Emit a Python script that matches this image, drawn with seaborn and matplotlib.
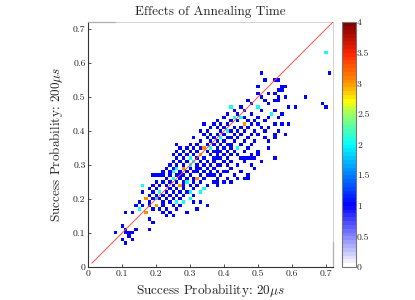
import matplotlib
matplotlib.use("Agg")
import matplotlib.pyplot as plt
import seaborn as sns
from matplotlib.colors import LinearSegmentedColormap

# success probabilities per instance, one entry per sample (repeats = count > 1)
# written row by row, same order in both lists
x20 = [
    0.70, 0.70,
    0.51, 0.71,
    0.52, 0.55, 0.56,
    0.50, 0.57, 0.58,
    0.56, 0.57,
    0.50, 0.53, 0.55,
    0.51, 0.56, 0.58, 0.64,
    0.47, 0.52, 0.55, 0.56,
    0.48, 0.53, 0.69,
    0.42, 0.42, 0.45, 0.50, 0.50, 0.59, 0.61, 0.70,
    0.43, 0.46, 0.51, 0.55,
    0.41, 0.44, 0.48, 0.54, 0.54, 0.57,
    0.40, 0.43, 0.43, 0.45, 0.45, 0.46, 0.50, 0.53, 0.56,
    0.38, 0.42, 0.44, 0.47, 0.49, 0.52,
    0.34, 0.37, 0.39, 0.41, 0.46, 0.46, 0.46, 0.48, 0.50, 0.55, 0.57, 0.59,
    0.36, 0.38, 0.40, 0.43, 0.45, 0.47, 0.51, 0.53,
    0.33, 0.35, 0.39, 0.41, 0.41, 0.42, 0.44, 0.46, 0.49, 0.52, 0.56,
    0.34, 0.36, 0.38, 0.40, 0.43, 0.45, 0.48, 0.50, 0.55, 0.58,
    0.31, 0.35, 0.37, 0.39, 0.39, 0.41, 0.42, 0.44, 0.47, 0.52, 0.55,
    0.33, 0.36, 0.38, 0.40, 0.43, 0.46, 0.49, 0.53,
    0.26, 0.30, 0.32, 0.35, 0.37, 0.39, 0.41, 0.42, 0.45, 0.48,
    0.27, 0.29, 0.31, 0.33, 0.34, 0.34, 0.34, 0.36, 0.36, 0.38, 0.40, 0.42, 0.44, 0.44, 0.47, 0.53,
    0.26, 0.28, 0.30, 0.32, 0.35, 0.37, 0.38, 0.39, 0.41, 0.43, 0.46, 0.50,
    0.25, 0.27, 0.29, 0.31, 0.33, 0.33, 0.33, 0.36, 0.38, 0.40, 0.42, 0.44, 0.48, 0.50,
    0.26, 0.28, 0.30, 0.30, 0.32, 0.34, 0.37, 0.38, 0.39, 0.41, 0.45, 0.46, 0.47, 0.48, 0.49, 0.55,
    0.25, 0.27, 0.29, 0.31, 0.31, 0.33, 0.35, 0.37, 0.40, 0.42, 0.46, 0.51,
    0.24, 0.26, 0.28, 0.30, 0.30, 0.32, 0.34, 0.36, 0.38, 0.39, 0.41, 0.44, 0.48,
    0.23, 0.25, 0.26, 0.26, 0.28, 0.28, 0.28, 0.30, 0.32, 0.33, 0.35, 0.37, 0.42, 0.49,
    0.22, 0.24, 0.25, 0.25, 0.27, 0.29, 0.31, 0.32, 0.34, 0.36, 0.38, 0.40, 0.41, 0.45,
    0.19, 0.20, 0.21, 0.22, 0.24, 0.26, 0.27, 0.28, 0.30, 0.33, 0.35, 0.36, 0.37, 0.39, 0.43, 0.47,
    0.23, 0.25, 0.25, 0.27, 0.29, 0.31, 0.32, 0.32, 0.32, 0.34, 0.38, 0.41, 0.44, 0.46, 0.47,
    0.20, 0.22, 0.24, 0.26, 0.28, 0.29, 0.29, 0.31, 0.33, 0.37, 0.38, 0.40, 0.42,
    0.16, 0.16, 0.19, 0.21, 0.23, 0.25, 0.27, 0.27, 0.27, 0.28, 0.30, 0.32, 0.35, 0.38,
    0.18, 0.20, 0.24, 0.26, 0.28, 0.31, 0.34, 0.34,
    0.16, 0.19, 0.21, 0.21, 0.23, 0.25, 0.27, 0.29, 0.30, 0.30, 0.33, 0.33,
    0.18, 0.20, 0.22, 0.24, 0.26, 0.28, 0.31,
    0.17, 0.17, 0.17, 0.19, 0.20, 0.20, 0.21, 0.23, 0.25, 0.27, 0.30, 0.30,
    0.15, 0.18, 0.22, 0.24, 0.26, 0.26, 0.28, 0.28, 0.31, 0.33,
    0.14, 0.16, 0.18, 0.20, 0.20, 0.20, 0.22, 0.25, 0.27, 0.35,
    0.15, 0.15, 0.19, 0.21, 0.23, 0.26, 0.32,
    0.11, 0.13, 0.17, 0.17, 0.17, 0.22, 0.24, 0.29,
    0.23, 0.25,
    0.18,
    0.19,
    0.10,
    0.11, 0.14, 0.18,
    0.08, 0.11, 0.12, 0.13,
    0.12,
    0.10, 0.13,
    0.11,
]
y200 = [
    0.63, 0.63,
    0.57, 0.57,
    0.55, 0.55, 0.55,
    0.53, 0.53, 0.53,
    0.52, 0.52,
    0.51, 0.51, 0.51,
    0.50, 0.50, 0.50, 0.50,
    0.49, 0.49, 0.49, 0.49,
    0.48, 0.48, 0.48,
    0.47, 0.47, 0.47, 0.47, 0.47, 0.47, 0.47, 0.47,
    0.46, 0.46, 0.46, 0.46,
    0.45, 0.45, 0.45, 0.45, 0.45, 0.45,
    0.44, 0.44, 0.44, 0.44, 0.44, 0.44, 0.44, 0.44, 0.44,
    0.43, 0.43, 0.43, 0.43, 0.43, 0.43,
    0.42, 0.42, 0.42, 0.42, 0.42, 0.42, 0.42, 0.42, 0.42, 0.42, 0.42, 0.42,
    0.41, 0.41, 0.41, 0.41, 0.41, 0.41, 0.41, 0.41,
    0.40, 0.40, 0.40, 0.40, 0.40, 0.40, 0.40, 0.40, 0.40, 0.40, 0.40,
    0.39, 0.39, 0.39, 0.39, 0.39, 0.39, 0.39, 0.39, 0.39, 0.39,
    0.38, 0.38, 0.38, 0.38, 0.38, 0.38, 0.38, 0.38, 0.38, 0.38, 0.38,
    0.37, 0.37, 0.37, 0.37, 0.37, 0.37, 0.37, 0.37,
    0.36, 0.36, 0.36, 0.36, 0.36, 0.36, 0.36, 0.36, 0.36, 0.36,
    0.35, 0.35, 0.35, 0.35, 0.35, 0.35, 0.35, 0.35, 0.35, 0.35, 0.35, 0.35, 0.35, 0.35, 0.35, 0.35,
    0.34, 0.34, 0.34, 0.34, 0.34, 0.34, 0.34, 0.34, 0.34, 0.34, 0.34, 0.34,
    0.33, 0.33, 0.33, 0.33, 0.33, 0.33, 0.33, 0.33, 0.33, 0.33, 0.33, 0.33, 0.33, 0.33,
    0.32, 0.32, 0.32, 0.32, 0.32, 0.32, 0.32, 0.32, 0.32, 0.32, 0.32, 0.32, 0.32, 0.32, 0.32, 0.32,
    0.31, 0.31, 0.31, 0.31, 0.31, 0.31, 0.31, 0.31, 0.31, 0.31, 0.31, 0.31,
    0.30, 0.30, 0.30, 0.30, 0.30, 0.30, 0.30, 0.30, 0.30, 0.30, 0.30, 0.30, 0.30,
    0.29, 0.29, 0.29, 0.29, 0.29, 0.29, 0.29, 0.29, 0.29, 0.29, 0.29, 0.29, 0.29, 0.29,
    0.28, 0.28, 0.28, 0.28, 0.28, 0.28, 0.28, 0.28, 0.28, 0.28, 0.28, 0.28, 0.28, 0.28,
    0.27, 0.27, 0.27, 0.27, 0.27, 0.27, 0.27, 0.27, 0.27, 0.27, 0.27, 0.27, 0.27, 0.27, 0.27, 0.27,
    0.26, 0.26, 0.26, 0.26, 0.26, 0.26, 0.26, 0.26, 0.26, 0.26, 0.26, 0.26, 0.26, 0.26, 0.26,
    0.25, 0.25, 0.25, 0.25, 0.25, 0.25, 0.25, 0.25, 0.25, 0.25, 0.25, 0.25, 0.25,
    0.24, 0.24, 0.24, 0.24, 0.24, 0.24, 0.24, 0.24, 0.24, 0.24, 0.24, 0.24, 0.24, 0.24,
    0.23, 0.23, 0.23, 0.23, 0.23, 0.23, 0.23, 0.23,
    0.22, 0.22, 0.22, 0.22, 0.22, 0.22, 0.22, 0.22, 0.22, 0.22, 0.22, 0.22,
    0.21, 0.21, 0.21, 0.21, 0.21, 0.21, 0.21,
    0.20, 0.20, 0.20, 0.20, 0.20, 0.20, 0.20, 0.20, 0.20, 0.20, 0.20, 0.20,
    0.19, 0.19, 0.19, 0.19, 0.19, 0.19, 0.19, 0.19, 0.19, 0.19,
    0.18, 0.18, 0.18, 0.18, 0.18, 0.18, 0.18, 0.18, 0.18, 0.18,
    0.17, 0.17, 0.17, 0.17, 0.17, 0.17, 0.17,
    0.16, 0.16, 0.16, 0.16, 0.16, 0.16, 0.16, 0.16,
    0.15, 0.15,
    0.14,
    0.13,
    0.12,
    0.11, 0.11, 0.11,
    0.10, 0.10, 0.10, 0.10,
    0.09,
    0.08, 0.08,
    0.07,
]

diag = [0.01, 0.72]
ticks = [0, 0.1, 0.2, 0.3, 0.4, 0.5, 0.6, 0.7]
tick_labels = ['0', '0.1', '0.2', '0.3', '0.4', '0.5', '0.6', '0.7']
cbar_ticks = [0, 0.5, 1, 1.5, 2, 2.5, 3, 3.5, 4]
cbar_labels = ['0', '0.5', '1', '1.5', '2', '2.5', '3', '3.5', '4']

sns.set_style("white")
plt.rcParams['font.family'] = ['cmr10', 'DejaVu Serif']
plt.rcParams['mathtext.fontset'] = 'cm'
plt.rcParams['axes.formatter.use_mathtext'] = True

# white -> blue -> cyan -> yellow -> red, 64 steps like the matlab map
cmap = LinearSegmentedColormap.from_list('whitejet', [
    (0.0, (1, 1, 1)),
    (0.25, (0, 0, 1)),
    (0.375, (0, 0.5, 1)),
    (0.5, (0, 1, 1)),
    (0.625, (0.6, 1, 0.4)),
    (0.68, (1, 1, 0)),
    (0.75, (1, 0.6, 0)),
    (0.875, (1, 0.15, 0)),
    (1.0, (0.5, 0, 0)),
], N=64)

fig = plt.figure(figsize=(4.15, 3.0), dpi=100)
ax = fig.add_axes([0.213, 0.111, 0.589, 0.815])
cax = fig.add_axes([0.825, 0.11, 0.032, 0.816])

sns.histplot(x=x20, y=y200, binwidth=0.01, binrange=(-0.005, 0.725),
             cmap=cmap, vmin=0, vmax=4, cbar=True, cbar_ax=cax, ax=ax)

ax.plot(diag, diag, color='#ff5050', lw=0.7, zorder=5)

ax.set_xlim(0, 0.72)
ax.set_ylim(0, 0.72)
ax.set_xticks(ticks)
ax.set_xticklabels(tick_labels)
ax.set_yticks(ticks)
ax.set_yticklabels(tick_labels)
ax.tick_params(direction='in', length=2, width=0.6, labelsize=7, pad=2,
               bottom=True, left=True, colors='#333333')
ax.tick_params(labelcolor='#222222')

ax.set_title('Effects of Annealing Time', fontsize=9.5, pad=5)
ax.set_xlabel(r'Success Probability: 20$\mu s$', fontsize=9.5, labelpad=3)
ax.set_ylabel(r'Success Probability: 200$\mu s$', fontsize=9.5, labelpad=6)

for side in ['left', 'bottom']:
    ax.spines[side].set_color('#333333')
    ax.spines[side].set_linewidth(0.8)
for side in ['top', 'right']:
    ax.spines[side].set_color('#cccccc')
    ax.spines[side].set_linewidth(0.6)
# darker stubs on the box, as in the original export
ax.plot([0, 0.11], [1, 1], transform=ax.transAxes, color='#333333', lw=0.8, clip_on=False)
ax.plot([1, 1], [0, 0.1], transform=ax.transAxes, color='#333333', lw=0.8, clip_on=False)

cax.set_yticks(cbar_ticks)
cax.set_yticklabels(cbar_labels)
cax.tick_params(direction='in', length=2, width=0.5, labelsize=7, pad=1, right=True)
for s in cax.spines.values():
    s.set_color('#777777')
    s.set_linewidth(0.8)

fig.savefig('out.png', dpi=100)
